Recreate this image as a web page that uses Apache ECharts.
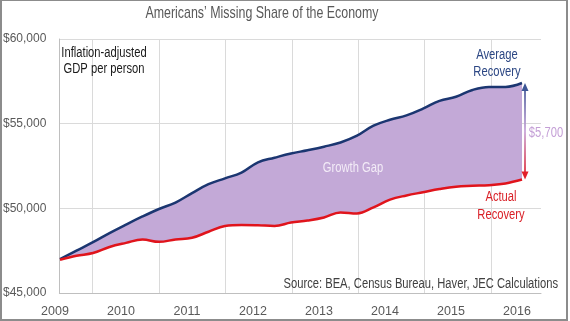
<!DOCTYPE html>
<html>
<head>
<meta charset="utf-8">
<script src="https://cdn.jsdelivr.net/npm/echarts@6/dist/echarts.min.js"></script>
<style>
  html, body { margin: 0; padding: 0; background: #fff; }
  #wrap { position: relative; width: 570px; height: 321px; }
  #chart { position: absolute; left: 0; top: 0; width: 570px; height: 321px; }
  #frame { position: absolute; left: 0; top: 0; width: 568px; height: 321px; box-sizing: border-box;
           border-style: solid; border-color: #8c8c8c; border-width: 1px 2px 2px 2px; pointer-events: none; }
</style>
</head>
<body>
<div id="wrap"><div id="chart"></div><div id="frame"></div></div>
<script>
// Quarterly real GDP per person, from the end of the recession (2009 Q2) to 2016 Q2
const quarters = [
  '2009Q2','2009Q3','2009Q4','2010Q1','2010Q2','2010Q3','2010Q4','2011Q1','2011Q2','2011Q3',
  '2011Q4','2012Q1','2012Q2','2012Q3','2012Q4','2013Q1','2013Q2','2013Q3','2013Q4','2014Q1',
  '2014Q2','2014Q3','2014Q4','2015Q1','2015Q2','2015Q3','2015Q4','2016Q1','2016Q2'
];
const yearLabels = ['2009', '2010', '2011', '2012', '2013', '2014', '2015', '2016'];

// Path of an average post-war recovery
const averageRecovery = [
  47000, 47500, 48000, 48540, 49040, 49520, 49960, 50340, 50900, 51430,
  51770, 52110, 52720, 52990, 53240, 53430, 53640, 53890, 54290, 54880,
  55230, 55490, 55890, 56350, 56590, 56990, 57170, 57170, 57400
];
// Path of the actual recovery
const actualRecovery = [
  46960, 47200, 47360, 47720, 47960, 48160, 48020, 48160, 48260, 48620,
  48960, 49020, 49000, 48960, 49160, 49280, 49460, 49760, 49700, 50060,
  50510, 50760, 50950, 51140, 51280, 51330, 51370, 51470, 51700
];

const FONT = "'Liberation Sans', Arial, sans-serif";
const NARROW = 0.8;           // horizontal squeeze for the free-standing captions
const NAVY = '#1b3671';
const RED = '#e0141c';
const LAVENDER = '#c3a9d7';
const Y_MIN = 45000, Y_MAX = 60000;

const gap = averageRecovery.map((v, i) => v - actualRecovery[i]);
const last = quarters.length - 1;

const caption = (x, y, text, fill, size, extra, squeeze) => ({
  type: 'text', x: x, y: y, scaleX: squeeze || NARROW, z: 10,
  style: Object.assign({ text: text, fill: fill, font: size + 'px ' + FONT,
                         align: 'center', verticalAlign: 'middle' }, extra || {})
});

const chart = echarts.init(document.getElementById('chart'), null, { renderer: 'canvas' });

chart.setOption({
  animation: false,
  backgroundColor: '#fff',
  textStyle: { fontFamily: FONT },
  grid: [
    // plot frame: value scale, gridlines and axis lines
    { left: 56, right: 29, top: 39, bottom: 28, containLabel: false },
    // data area: first to last quarter
    { left: 60, right: 48, top: 39, bottom: 28, containLabel: false }
  ],
  xAxis: [
    {
      gridIndex: 0,
      type: 'value',
      min: 0,
      max: 29,
      axisLine: { show: true, onZero: false, lineStyle: { color: '#bfbfbf', width: 1 } },
      axisLabel: { show: false },
      axisTick: { show: false, customValues: [2, 6, 10, 14, 18, 22, 26] },
      splitLine: { show: true, lineStyle: { color: '#dadada', width: 1 } }
    },
    {
      gridIndex: 1,
      type: 'category',
      data: quarters,
      boundaryGap: false,
      axisLine: { show: false },
      axisTick: { show: false },
      splitLine: { show: false },
      axisLabel: {
        interval: 3,
        formatter: (v, i) => yearLabels[i / 4],
        color: '#595959',
        fontFamily: FONT,
        fontSize: 12.5,
        margin: 12,
        padding: [0, 10, 0, 0]
      }
    }
  ],
  yAxis: [
    {
      gridIndex: 0,
      type: 'value',
      min: Y_MIN,
      max: Y_MAX,
      interval: 5000,
      axisLine: { show: true, lineStyle: { color: '#bfbfbf', width: 1 } },
      axisTick: { show: false },
      splitLine: { show: true, lineStyle: { color: '#dadada', width: 1 } },
      axisLabel: {
        formatter: (v) => '$' + v.toLocaleString('en-US'),
        color: '#595959',
        fontFamily: FONT,
        fontSize: 12,
        margin: 13
      }
    },
    { gridIndex: 1, type: 'value', min: Y_MIN, max: Y_MAX, show: false }
  ],
  series: [
    {
      name: 'base',
      type: 'line',
      xAxisIndex: 1, yAxisIndex: 1,
      stack: 'gap',
      data: actualRecovery,
      smooth: 0.4,
      showSymbol: false,
      lineStyle: { opacity: 0 },
      silent: true,
      z: 1
    },
    {
      name: 'Growth Gap',
      type: 'line',
      xAxisIndex: 1, yAxisIndex: 1,
      stack: 'gap',
      data: gap,
      smooth: 0.4,
      showSymbol: false,
      lineStyle: { opacity: 0 },
      areaStyle: { color: LAVENDER, opacity: 1 },
      silent: true,
      z: 1
    },
    {
      name: 'Average Recovery',
      type: 'line',
      xAxisIndex: 1, yAxisIndex: 1,
      data: averageRecovery,
      smooth: 0.4,
      showSymbol: false,
      lineStyle: { color: NAVY, width: 2.5 },
      z: 3
    },
    {
      name: 'Actual Recovery',
      type: 'line',
      xAxisIndex: 1, yAxisIndex: 1,
      data: actualRecovery,
      smooth: 0.4,
      showSymbol: false,
      lineStyle: { color: RED, width: 2.5 },
      z: 4
    },
    {
      // gap arrow at the latest quarter
      name: 'gap arrow',
      type: 'custom',
      xAxisIndex: 1, yAxisIndex: 1,
      data: [[last, averageRecovery[last], actualRecovery[last]]],
      z: 5,
      renderItem: (params, api) => {
        const top = api.coord([api.value(0), api.value(1)]);
        const bot = api.coord([api.value(0), api.value(2)]);
        const x = top[0] + 3;
        const y1 = top[1];
        const y2 = bot[1];
        const diff = api.value(1) - api.value(2);
        const grad = new echarts.graphic.LinearGradient(x, y1, x, y2, [
          { offset: 0, color: '#3d5696' },
          { offset: 0.5, color: '#c9a7d9' },
          { offset: 1, color: '#e2202a' }
        ], true);
        return {
          type: 'group',
          children: [
            { type: 'line', shape: { x1: x, y1: y1 + 6, x2: x, y2: y2 - 6 },
              style: { stroke: grad, lineWidth: 1.8 } },
            { type: 'polygon', shape: { points: [[x, y1], [x - 3.5, y1 + 8], [x + 3.5, y1 + 8]] },
              style: { fill: '#3d5696' } },
            { type: 'polygon', shape: { points: [[x, y2], [x - 3.5, y2 - 8], [x + 3.5, y2 - 8]] },
              style: { fill: '#e2202a' } },
            { type: 'text', x: x + 21, y: (y1 + y2) / 2 + 2, scaleX: NARROW,
              style: { text: '$' + diff.toLocaleString('en-US'), fill: '#c49fd6',
                       font: '14px ' + FONT, align: 'center', verticalAlign: 'middle' } }
          ]
        };
      }
    }
  ],
  graphic: [
    caption(262, 13, 'Americans\u2019 Missing Share of the Economy', '#595959', 17, null, 0.73),
    caption(104, 61, 'Inflation-adjusted\nGDP per person', '#1a1a1a', 14, { lineHeight: 16.6 }),
    caption(497, 64, 'Average\nRecovery', '#2b4683', 14, { lineHeight: 17 }),
    caption(501, 206, 'Actual\nRecovery', '#d91f26', 14, { lineHeight: 18 }),
    caption(353, 168, 'Growth Gap', '#f3ecf7', 14),
    caption(558, 284, 'Source: BEA, Census Bureau, Haver, JEC Calculations', '#404040', 14, { align: 'right' })
  ]
});
</script>
</body>
</html>
